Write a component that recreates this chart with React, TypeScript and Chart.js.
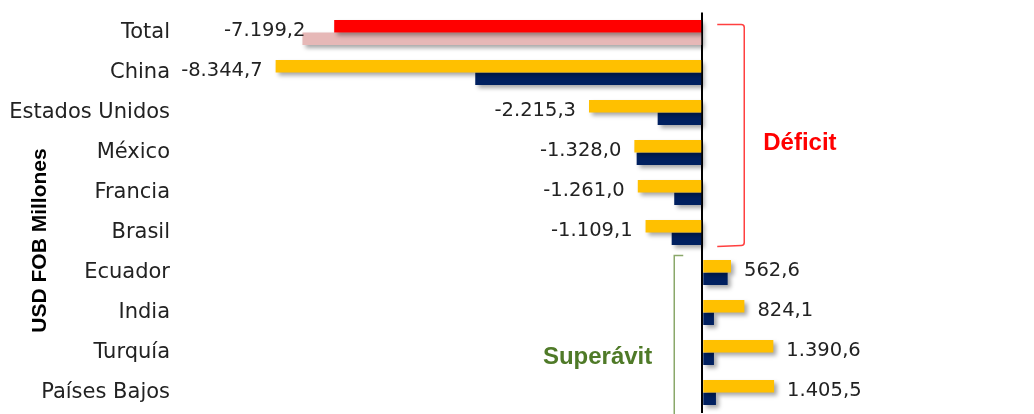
import React, { useEffect, useRef } from "react";
import { Chart, registerables } from "chart.js";

Chart.register(...registerables);

const categories = [
  "Total",
  "China",
  "Estados Unidos",
  "México",
  "Francia",
  "Brasil",
  "Ecuador",
  "India",
  "Turquía",
  "Países Bajos",
];
const currentValues = [-7199.2, -8344.7, -2215.3, -1328.0, -1261.0, -1109.1, 562.6, 824.1, 1390.6, 1405.5];
const previousValues = [-7820, -4440, -872, -1283, -548, -598, 497, 229, 229, 268];
const currentColors = ["#FF0000", "#FFC000", "#FFC000", "#FFC000", "#FFC000", "#FFC000", "#FFC000", "#FFC000", "#FFC000", "#FFC000"];
const previousColors = ["#E6B8B7", "#002060", "#002060", "#002060", "#002060", "#002060", "#002060", "#002060", "#002060", "#002060"];
const axisTitle = "USD FOB Millones";
const deficitLabel = "Déficit";
const surplusLabel = "Superávit";

function fmt(v: number): string {
  const neg = v < 0;
  const a = Math.abs(v);
  const intPart = Math.floor(a);
  const dec = Math.round((a - intPart) * 10);
  const s = String(intPart).replace(/\B(?=(\d{3})+(?!\d))/g, ".");
  return (neg ? "-" : "") + s + "," + dec;
}

const shadowPlugin = {
  id: "barShadow",
  beforeDatasetsDraw(chart: any) {
    const ctx = chart.ctx;
    ctx.save();
    ctx.shadowColor = "rgba(0,0,0,0.35)";
    ctx.shadowBlur = 4;
    ctx.shadowOffsetX = 3;
    ctx.shadowOffsetY = 3;
  },
  afterDatasetsDraw(chart: any) {
    chart.ctx.restore();
  },
};

const decorPlugin = {
  id: "decor",
  afterDraw(chart: any) {
    const ctx = chart.ctx;
    const xs = chart.scales.x;
    const ys = chart.scales.y;
    const area = chart.chartArea;
    const zero = xs.getPixelForValue(0);

    // data labels for current series
    ctx.save();
    ctx.font = "19.5px 'DejaVu Sans'";
    ctx.fillStyle = "#222";
    ctx.textBaseline = "middle";
    currentValues.forEach((v, i) => {
      const y = ys.getPixelForValue(i) - 2;
      const px = xs.getPixelForValue(v);
      if (v < 0) {
        const other = xs.getPixelForValue(previousValues[i]);
        let x = px - 13;
        if (other < px) x = other + 3;
        ctx.textAlign = "right";
        ctx.fillText(fmt(v), x, y);
      } else {
        ctx.textAlign = "left";
        ctx.fillText(fmt(v), px + 13, y);
      }
    });
    ctx.restore();

    // deficit bracket
    const firstNeg = 0;
    const lastNeg = currentValues.filter((v) => v < 0).length - 1;
    const topY = ys.getPixelForValue(firstNeg) - 8;
    const botY = ys.getPixelForValue(lastNeg) + 13;
    const bx0 = zero + 15;
    const bx1 = zero + 42;
    ctx.save();
    ctx.strokeStyle = "#FF4040";
    ctx.lineWidth = 1.5;
    ctx.beginPath();
    ctx.moveTo(bx0, topY);
    ctx.lineTo(bx1 - 3, topY);
    ctx.quadraticCurveTo(bx1, topY, bx1, topY + 3);
    ctx.lineTo(bx1, botY - 3);
    ctx.quadraticCurveTo(bx1, botY, bx1 - 3, botY);
    ctx.lineTo(bx0, botY + 1);
    ctx.stroke();
    ctx.font = "bold 24px 'Liberation Sans'";
    ctx.fillStyle = "#FF0000";
    ctx.textAlign = "left";
    ctx.textBaseline = "middle";
    ctx.fillText(deficitLabel, zero + 61, (topY + botY) / 2 + 8);
    ctx.restore();

    // surplus bracket
    const firstPos = lastNeg + 1;
    const sTop = ys.getPixelForValue(firstPos) - 17;
    const sx = zero - 28;
    ctx.save();
    ctx.strokeStyle = "#8AA86A";
    ctx.lineWidth = 1.5;
    ctx.beginPath();
    ctx.moveTo(sx + 9, sTop);
    ctx.lineTo(sx, sTop);
    ctx.lineTo(sx, chart.height + 5);
    ctx.stroke();
    ctx.font = "bold 24px 'Liberation Sans'";
    ctx.fillStyle = "#4F7A28";
    ctx.textAlign = "right";
    ctx.textBaseline = "middle";
    ctx.fillText(surplusLabel, zero - 50, ys.getPixelForValue(categories.length - 2) + 5);
    ctx.restore();

    // y axis title
    ctx.save();
    ctx.font = "bold 21px 'Liberation Sans'";
    ctx.fillStyle = "#000";
    ctx.textAlign = "center";
    ctx.textBaseline = "middle";
    ctx.translate(40, area.top + 0.57 * (area.bottom - area.top));
    ctx.rotate(-Math.PI / 2);
    ctx.fillText(axisTitle, 0, 0);
    ctx.restore();
  },
};

export default function App() {
  const ref = useRef<HTMLCanvasElement | null>(null);

  useEffect(() => {
    document.body.style.margin = "0";
    if (!ref.current) return;
    const chart = new Chart(ref.current, {
      type: "bar",
      data: {
        labels: categories,
        datasets: [
          {
            label: "Actual",
            data: currentValues,
            backgroundColor: currentColors,
            borderWidth: 0,
            categoryPercentage: 0.625,
            barPercentage: 1.0,
          },
          {
            label: "Anterior",
            data: previousValues,
            backgroundColor: previousColors,
            borderWidth: 0,
            categoryPercentage: 0.625,
            barPercentage: 1.0,
          },
        ],
      },
      options: {
        indexAxis: "y",
        animation: false,
        responsive: false,
        maintainAspectRatio: false,
        layout: { padding: { top: 12.5, bottom: 1.5, left: 0, right: 25 } },
        plugins: {
          legend: { display: false },
          tooltip: { enabled: false },
        },
        scales: {
          x: {
            min: -10000,
            max: 6000,
            ticks: { display: false, stepSize: 2000 },
            border: { display: false },
            grid: {
              drawTicks: false,
              lineWidth: 2,
              color: (c: any) => (c.tick && c.tick.value === 0 ? "#000000" : "rgba(0,0,0,0)"),
            },
          },
          y: {
            grid: { display: false },
            border: { display: false },
            ticks: {
              color: "#222",
              padding: 13,
              font: { family: "'DejaVu Sans'", size: 21 },
            },
            afterFit: (s: any) => {
              s.width = 191;
              s.paddingTop = 0;
              s.paddingBottom = 0;
            },
          },
        },
      },
      plugins: [shadowPlugin, decorPlugin],
    });
    return () => chart.destroy();
  }, []);

  return (
    <div style={{ width: 1034, height: 414 }}>
      <canvas ref={ref} width={1034} height={414} style={{ display: "block" }} />
    </div>
  );
}
